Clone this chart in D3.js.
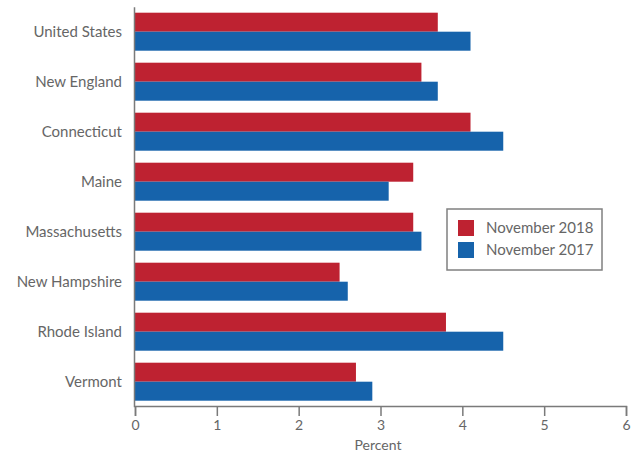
<!DOCTYPE html>
<html><head><meta charset="utf-8">
<script src="https://cdn.jsdelivr.net/npm/d3@7"></script>
<style>body{margin:0;background:#fff}svg{display:block}</style>
</head><body><svg id="c" width="641" height="458"></svg>
<script>
const categories = ["United States","New England","Connecticut","Maine","Massachusetts","New Hampshire","Rhode Island","Vermont"];
const nov2018 = [3.7,3.5,4.1,3.4,3.4,2.5,3.8,2.7];
const nov2017 = [4.1,3.7,4.5,3.1,3.5,2.6,4.5,2.9];
const seriesNames = ["November 2018","November 2017"];
const xTicks = [0,1,2,3,4,5,6];
const colors = ["#BE2231","#1663AB"];
const font = "Lato, 'Open Sans', sans-serif";

const svg = d3.select("#c");
const x = d3.scaleLinear().domain([0,6]).range([135,626]);
const y = d3.scaleBand().domain(categories).range([6.7,406.7]).paddingInner(0.24).paddingOuter(0.12);
const y1 = d3.scaleBand().domain(seriesNames).range([0,y.bandwidth()]);

const data = categories.map((c,i)=>({c, vals:[nov2018[i],nov2017[i]]}));
const g = svg.append("g");
data.forEach(d=>{
  d.vals.forEach((v,j)=>{
    g.append("rect").attr("x",x(0)).attr("y",y(d.c)+y1(seriesNames[j]))
     .attr("width",x(v)-x(0)).attr("height",y1.bandwidth()).attr("fill",colors[j]);
  });
});

const axisColor = "#7a7a7a";
const xa = svg.append("g").attr("transform","translate(0,406)")
  .call(d3.axisBottom(x).tickValues(xTicks).tickSize(10).tickPadding(4).tickFormat(d3.format("d")));
xa.select(".domain").attr("stroke",axisColor).attr("stroke-width",1.5);
xa.selectAll(".tick line").attr("stroke",axisColor).attr("stroke-width",1.5);
xa.selectAll("text").attr("fill","#666").style("font-family",font).style("font-size","14px");

const ya = svg.append("g").attr("transform","translate(134,0)")
  .call(d3.axisLeft(y).tickSize(0).tickPadding(12).tickSizeOuter(0));
ya.select(".domain").attr("stroke",axisColor).attr("stroke-width",1.5);
ya.selectAll("text").attr("fill","#666").style("font-family",font).style("font-size","15px");

svg.append("text").attr("x",378).attr("y",450).attr("text-anchor","middle")
  .attr("fill","#666").style("font-family",font).style("font-size","14px").text("Percent");

const lg = svg.append("g");
lg.append("rect").attr("x",447).attr("y",209).attr("width",155).attr("height",61)
  .attr("fill","#fff").attr("stroke","#808080").attr("stroke-width",1.5);
seriesNames.forEach((s,i)=>{
  lg.append("rect").attr("x",458).attr("y",220+i*22).attr("width",16).attr("height",16).attr("fill",colors[i]);
  lg.append("text").attr("x",486).attr("y",228+i*22).attr("dy","0.35em")
    .attr("fill","#666").style("font-family",font).style("font-size","15px").text(s);
});
</script></body></html>
